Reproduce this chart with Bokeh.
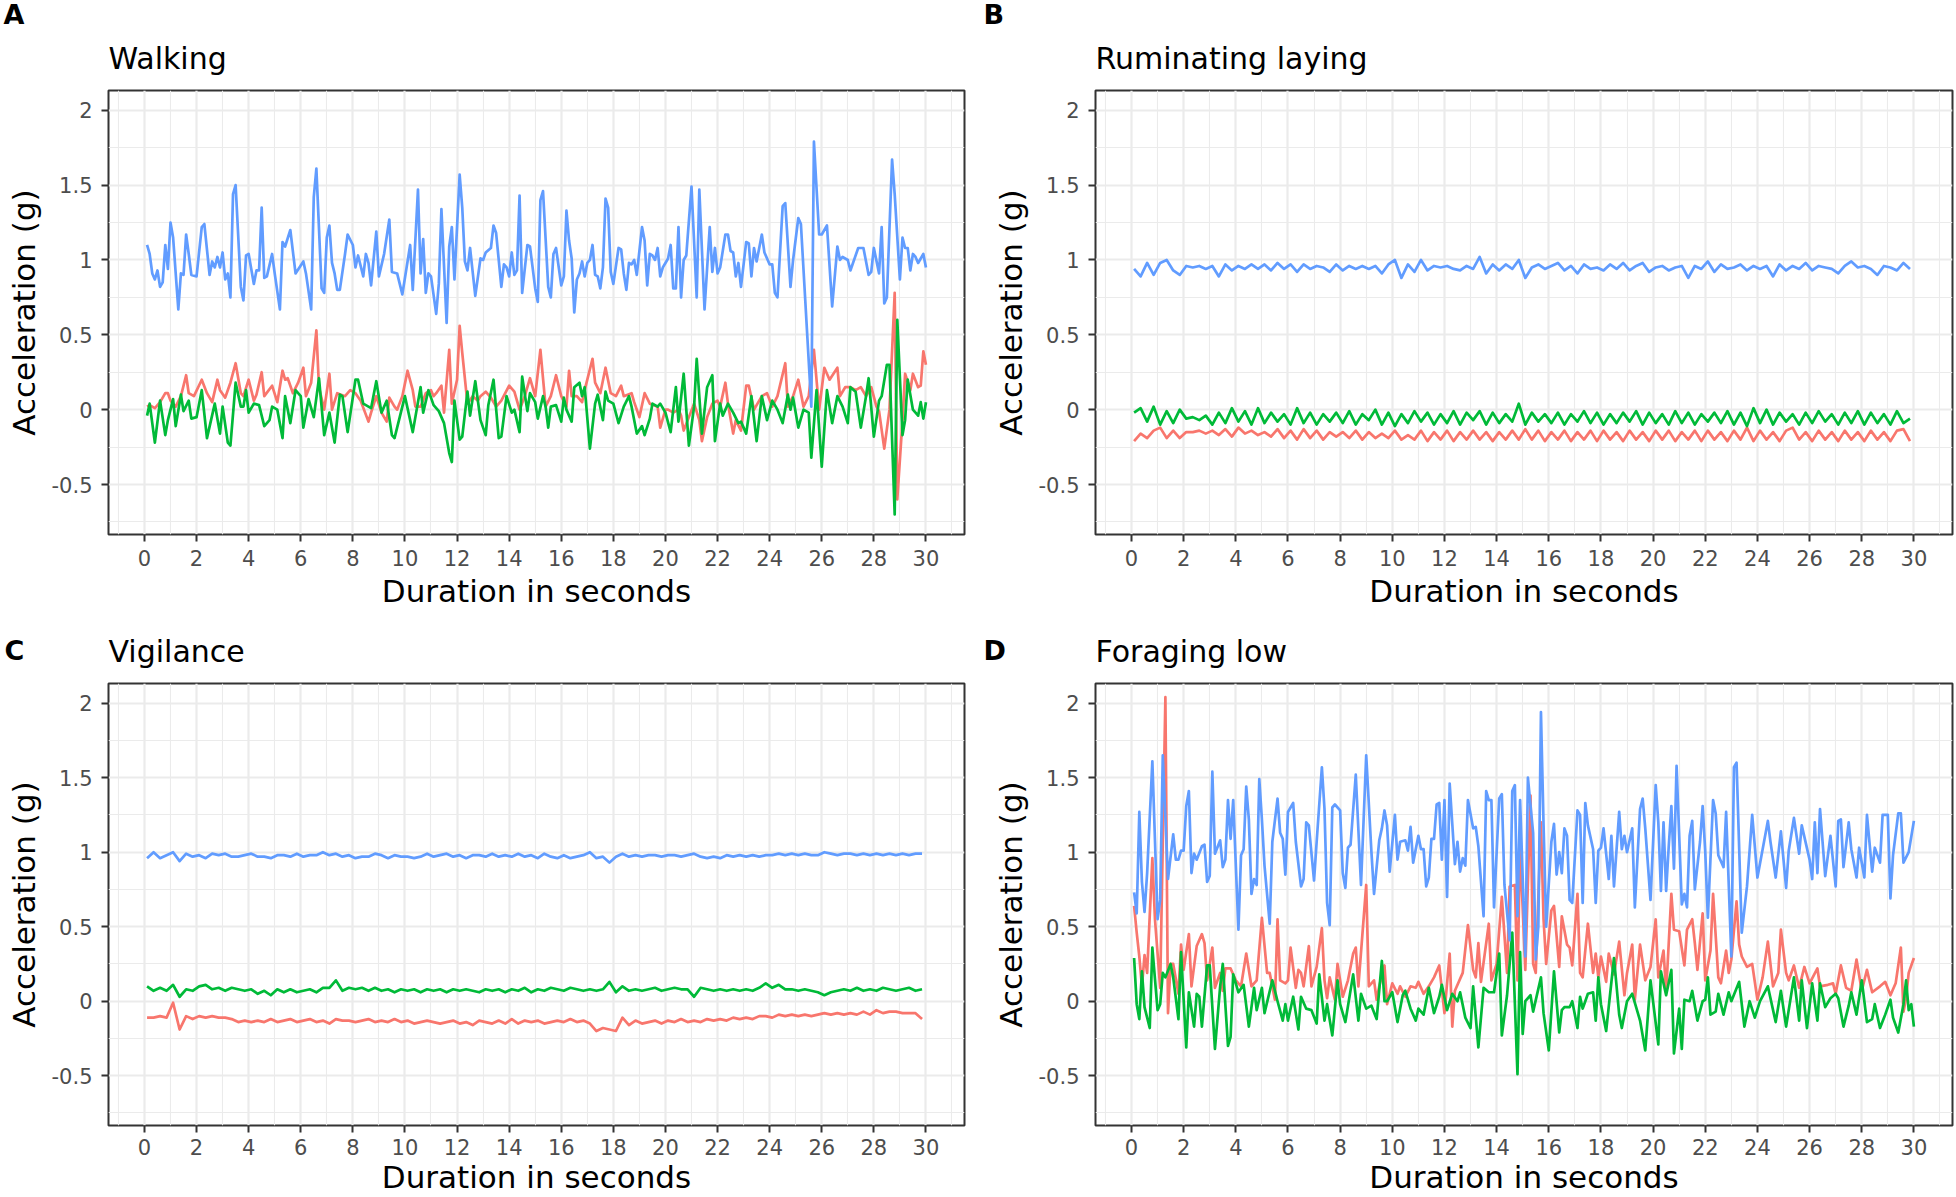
from bokeh.plotting import figure
from bokeh.models import Range1d, FixedTicker, CustomJSTickFormatter, Title
from bokeh.layouts import column, row
from bokeh.embed import file_html
from bokeh.resources import INLINE

FONT = "DejaVu Sans"
COL_X = "#F8766D"   # red
COL_Y = "#00BA38"   # green
COL_Z = "#619CFF"   # blue

X_TICKS = list(range(0, 31, 2))
X_MINOR = list(range(-1, 32, 2))
Y_TICKS = [-0.5, 0, 0.5, 1, 1.5, 2]
Y_MINOR = [-0.75, -0.25, 0.25, 0.75, 1.25, 1.75]

TITLES = ["Walking", "Ruminating laying", "Vigilance", "Foraging low"]
LETTERS = ["A", "B", "C", "D"]

# ---------------- Panel A: Walking (time s, acceleration g) ----------------
walking_z = [(0.1,1.10),(0.2,1.04),(0.3,0.91),(0.4,0.87),(0.5,0.93),(0.6,0.82),(0.7,0.85),(0.8,1.10),(0.9,0.94),(1.0,1.25),
 (1.1,1.15),(1.3,0.67),(1.4,0.91),(1.5,0.90),(1.6,1.17),(1.7,1.04),(1.8,0.90),(2.0,0.89),(2.2,1.22),(2.3,1.24),
 (2.5,0.90),(2.6,0.99),(2.7,0.95),(2.8,1.02),(2.9,0.95),(3.0,1.05),(3.1,0.87),(3.2,0.91),(3.3,0.75),(3.4,1.44),
 (3.5,1.50),(3.7,0.82),(3.8,0.73),(3.9,1.03),(4.0,1.04),(4.2,0.84),(4.3,0.93),(4.4,0.93),(4.5,1.35),(4.6,0.88),
 (4.7,0.89),(4.9,1.04),(5.0,0.91),(5.2,0.67),(5.3,1.12),(5.4,1.09),(5.6,1.20),(5.8,0.91),(6.1,0.99),(6.2,0.91),
 (6.4,0.67),(6.5,1.42),(6.6,1.61),(6.8,0.81),(6.9,0.78),(7.0,1.15),(7.1,1.23),(7.2,0.98),(7.3,0.91),(7.4,0.80),
 (7.5,0.80),(7.7,1.04),(7.8,1.17),(8.0,1.10),(8.1,0.95),(8.2,1.03),(8.4,0.89),(8.5,1.04),(8.6,0.98),(8.7,0.83),
 (8.9,1.19),(9.0,0.89),(9.2,1.04),(9.4,1.27),(9.5,0.92),(9.7,0.91),(9.9,0.77),(10.1,0.99),(10.2,1.10),(10.3,0.80),
 (10.5,1.47),(10.6,0.91),(10.7,1.14),(10.8,0.78),(10.9,0.91),(11.0,0.89),(11.2,0.64),(11.3,0.84),(11.4,1.34),(11.6,0.58),
 (11.7,1.09),(11.8,1.22),(11.9,0.87),(12.1,1.57),(12.2,1.35),(12.3,0.99),(12.4,0.93),(12.5,1.08),(12.7,0.76),(12.9,1.01),
 (13.0,1.00),(13.1,1.05),(13.3,1.08),(13.4,1.23),(13.5,1.18),(13.7,0.82),(13.8,0.97),(13.9,0.95),(14.0,0.89),(14.1,1.05),
 (14.2,0.90),(14.3,0.93),(14.4,1.43),(14.5,0.78),(14.7,1.10),(14.8,1.09),(15.0,0.81),(15.1,0.72),(15.2,1.40),(15.3,1.46),
 (15.5,0.82),(15.6,0.75),(15.7,1.04),(15.8,1.08),(16.0,0.83),(16.1,0.89),(16.2,1.33),(16.3,1.13),(16.4,1.01),(16.5,0.65),
 (16.6,0.87),(16.7,0.91),(16.8,0.99),(16.9,0.89),(17.0,0.98),(17.1,1.00),(17.2,1.10),(17.3,0.90),(17.4,0.89),(17.5,0.81),
 (17.6,0.95),(17.7,1.41),(17.8,1.35),(17.9,0.92),(18.0,0.84),(18.2,1.08),(18.3,1.07),(18.4,0.91),(18.5,0.80),(18.6,0.98),
 (18.7,0.97),(18.8,1.00),(18.9,0.90),(19.1,1.22),(19.2,1.13),(19.3,0.83),(19.4,1.04),(19.5,1.03),(19.6,1.00),(19.7,1.08),
 (19.8,0.89),(19.9,0.95),(20.0,0.98),(20.1,1.01),(20.2,1.10),(20.3,0.81),(20.4,0.81),(20.5,1.22),(20.6,0.75),(20.7,1.00),
 (20.8,1.03),(21.0,1.49),(21.2,0.75),(21.3,1.47),(21.5,0.67),(21.7,1.22),(21.8,0.92),(21.9,1.08),(22.0,0.91),(22.1,0.95),
 (22.3,1.17),(22.4,1.17),(22.5,1.06),(22.6,1.05),(22.7,0.89),(22.8,0.98),(22.9,0.82),(23.1,1.12),(23.2,1.11),(23.3,0.89),
 (23.4,1.08),(23.5,0.99),(23.7,1.17),(23.8,1.05),(24.0,0.97),(24.1,0.97),(24.2,0.78),(24.3,0.75),(24.5,1.36),(24.6,1.38),
 (24.8,0.82),(24.9,1.00),(25.1,1.28),(25.2,1.24),(25.6,0.02),(25.7,1.79),(25.9,1.17),(26.0,1.17),(26.2,1.23),(26.4,0.69),
 (26.6,1.09),(26.7,1.00),(26.8,1.02),(27.0,1.00),(27.1,0.93),(27.4,1.08),(27.6,1.08),(27.8,0.90),(27.9,0.92),(28.0,1.08),
 (28.2,0.91),(28.3,1.22),(28.4,0.71),(28.5,0.75),(28.7,1.67),(28.8,1.44),(29.0,0.87),(29.1,1.15),(29.2,1.08),(29.3,1.08),
 (29.4,0.93),(29.5,1.04),(29.6,1.02),(29.7,0.98),(29.9,1.04),(30.0,0.95)]

walking_x = [(0.1,0.02),(0.2,0.03),(0.4,0.01),(0.6,0.05),(0.8,0.11),(0.9,0.11),(1.0,0.06),(1.2,0.02),(1.4,0.09),(1.6,0.23),
 (1.7,0.11),(1.9,0.09),(2.2,0.20),(2.4,0.11),(2.6,0.05),(2.8,0.20),(2.9,0.13),(3.1,0.08),(3.3,0.18),(3.5,0.31),
 (3.7,0.11),(3.8,0.09),(4.0,0.20),(4.2,0.06),(4.3,0.10),(4.5,0.25),(4.6,0.09),(4.9,0.16),(5.1,0.05),(5.3,0.26),
 (5.4,0.20),(5.5,0.21),(5.7,0.11),(5.9,0.18),(6.1,0.28),(6.2,0.09),(6.4,0.18),(6.6,0.53),(6.7,0.15),(6.9,0.00),
 (7.1,0.24),(7.2,0.00),(7.4,0.11),(7.7,0.09),(7.9,0.13),(8.1,0.11),(8.3,0.06),(8.6,-0.08),(8.7,-0.02),(8.9,0.09),
 (9.1,-0.02),(9.3,-0.08),(9.4,0.08),(9.6,0.02),(9.7,0.00),(9.9,0.09),(10.1,0.26),(10.3,0.13),(10.4,0.02),(10.5,0.02),
 (10.6,0.02),(10.8,0.11),(11.0,0.13),(11.1,0.09),(11.2,0.11),(11.4,0.16),(11.5,-0.02),(11.7,0.40),(11.8,0.04),(12.0,0.20),
 (12.1,0.56),(12.2,0.38),(12.4,0.04),(12.6,0.09),(12.8,0.06),(12.9,0.09),(13.1,0.12),(13.3,0.08),(13.5,0.02),(13.7,0.06),
 (14.0,0.16),(14.2,0.12),(14.4,0.00),(14.6,0.09),(14.8,0.21),(15.0,0.09),(15.2,0.40),(15.4,0.02),(15.6,0.09),(15.8,0.23),
 (16.0,0.09),(16.2,0.02),(16.3,0.26),(16.4,0.09),(16.6,0.09),(16.8,0.05),(16.9,0.13),(17.2,0.34),(17.3,0.18),(17.5,0.11),
 (17.7,0.28),(17.9,0.11),(18.1,0.09),(18.3,0.16),(18.4,0.09),(18.7,0.11),(18.8,0.05),(19.0,-0.05),(19.2,0.11),(19.4,0.04),
 (19.7,0.02),(19.8,-0.12),(20.0,0.00),(20.1,0.00),(20.3,-0.02),(20.5,0.00),(20.6,-0.04),(20.7,-0.14),(20.9,-0.05),(21.1,0.04),
 (21.3,-0.07),(21.4,-0.21),(21.6,-0.05),(21.8,0.04),(22.0,0.06),(22.1,0.02),(22.3,0.18),(22.4,0.04),(22.6,-0.16),(22.7,-0.07),
 (22.9,-0.14),(23.1,0.16),(23.2,0.16),(23.4,0.00),(23.7,0.09),(23.9,0.11),(24.1,0.02),(24.3,0.09),(24.6,0.31),(24.7,0.02),
 (24.9,0.09),(25.1,0.20),(25.3,0.02),(25.5,0.09),(25.7,0.40),(25.9,0.00),(26.1,0.28),(26.3,0.20),(26.6,0.28),(26.7,0.09),
 (26.9,0.15),(27.1,0.15),(27.3,0.13),(27.5,0.15),(27.7,0.09),(27.9,0.15),(28.1,0.02),(28.2,-0.01),(28.4,-0.26),(28.6,0.00),
 (28.8,0.78),(28.9,-0.60),(29.1,-0.07),(29.2,0.24),(29.4,0.13),(29.5,0.24),(29.7,0.15),(29.8,0.16),(29.9,0.39),(30.0,0.30)]

walking_y = [(0.1,-0.04),(0.2,0.04),(0.4,-0.22),(0.6,0.06),(0.8,-0.17),(0.9,-0.07),(1.1,0.07),(1.2,-0.11),(1.4,0.10),(1.5,-0.01),
 (1.7,0.06),(1.8,-0.06),(2.0,-0.05),(2.2,0.13),(2.4,-0.19),(2.7,0.04),(2.9,-0.16),(3.0,0.02),(3.2,-0.22),(3.3,-0.24),
 (3.5,0.18),(3.7,0.02),(3.8,0.02),(3.9,0.13),(4.0,-0.02),(4.2,0.04),(4.4,0.03),(4.6,-0.11),(4.8,-0.07),(4.9,0.02),
 (5.1,0.00),(5.3,-0.19),(5.4,0.09),(5.6,-0.09),(5.8,0.13),(6.0,0.09),(6.1,-0.12),(6.3,0.07),(6.5,-0.05),(6.7,0.21),
 (6.9,-0.17),(7.1,-0.02),(7.3,-0.22),(7.5,0.10),(7.6,0.09),(7.8,-0.15),(8.1,0.20),(8.2,0.20),(8.4,0.04),(8.7,0.01),
 (8.9,0.19),(9.1,-0.02),(9.3,0.06),(9.5,-0.17),(9.6,-0.19),(9.8,-0.05),(10.0,0.09),(10.3,-0.15),(10.6,0.15),(10.7,-0.02),
 (10.9,0.13),(11.1,0.03),(11.3,-0.01),(11.5,-0.09),(11.7,-0.29),(11.8,-0.35),(11.9,0.06),(12.1,-0.20),(12.2,-0.18),(12.4,0.12),
 (12.5,-0.04),(12.7,0.19),(12.9,-0.07),(13.1,-0.17),(13.2,0.03),(13.4,0.20),(13.6,-0.19),(13.7,-0.18),(13.9,0.09),(14.1,-0.02),
 (14.2,0.00),(14.4,-0.15),(14.5,0.22),(14.7,-0.01),(14.8,0.11),(15.0,0.05),(15.1,-0.06),(15.3,0.09),(15.4,0.02),(15.5,-0.12),
 (15.6,0.02),(15.8,0.03),(16.0,-0.08),(16.1,0.08),(16.2,0.00),(16.4,-0.08),(16.5,0.15),(16.7,0.18),(16.8,0.09),(16.9,0.15),
 (17.1,-0.26),(17.3,0.04),(17.4,0.10),(17.6,-0.07),(17.7,0.12),(17.8,0.06),(18.0,0.04),(18.2,-0.09),(18.4,0.02),(18.6,0.09),
 (18.7,0.02),(18.9,-0.16),(19.1,-0.11),(19.2,-0.17),(19.4,-0.06),(19.5,0.04),(19.7,0.02),(19.8,0.04),(20.0,-0.02),(20.2,-0.15),
 (20.4,0.15),(20.5,-0.08),(20.7,0.24),(20.9,-0.24),(21.1,0.02),(21.2,0.34),(21.4,-0.16),(21.6,0.15),(21.8,0.23),(21.9,-0.21),
 (22.1,0.04),(22.2,-0.04),(22.4,0.04),(22.6,-0.02),(22.8,-0.09),(22.9,-0.08),(23.1,-0.16),(23.3,0.09),(23.5,-0.21),(23.7,0.09),
 (23.9,-0.07),(24.1,0.06),(24.3,0.00),(24.5,-0.09),(24.7,0.10),(24.8,0.00),(24.9,0.08),(25.1,-0.12),(25.3,0.00),(25.5,-0.02),
 (25.6,-0.32),(25.8,0.13),(26.0,-0.38),(26.2,0.13),(26.4,-0.09),(26.6,0.09),(26.8,0.02),(27.0,-0.09),(27.1,0.15),(27.3,0.12),
 (27.5,-0.12),(27.7,0.09),(27.8,0.21),(28.0,-0.18),(28.2,0.06),(28.3,0.09),(28.5,0.30),(28.6,0.30),(28.8,-0.70),(28.9,0.60),
 (29.1,-0.17),(29.2,-0.07),(29.3,0.20),(29.5,0.00),(29.7,-0.04),(29.8,0.05),(29.9,-0.06),(30.0,0.05)]

# ---------------- Panel B: Ruminating laying (values every 0.25 s from 0.1 s) ----------------
ruminating_z = [0.94,0.89,0.98,0.90,0.98,1.00,0.93,0.90,0.96,0.95,
 0.96,0.94,0.96,0.89,0.97,0.93,0.96,0.94,0.97,0.94,
 0.97,0.93,0.98,0.94,0.97,0.92,0.97,0.94,0.96,0.95,
 0.92,0.97,0.93,0.96,0.94,0.96,0.94,0.96,0.91,0.97,
 1.00,0.88,0.97,0.92,1.00,0.93,0.96,0.95,0.96,0.94,
 0.93,0.96,0.94,1.02,0.91,0.97,0.93,0.97,0.94,1.00,
 0.88,0.95,0.97,0.94,0.96,0.98,0.93,0.96,0.91,0.97,
 0.94,0.95,0.93,0.97,0.94,0.98,0.93,0.96,0.98,0.92,
 0.95,0.96,0.93,0.95,0.96,0.88,0.96,0.94,0.99,0.92,
 0.97,0.94,0.95,0.97,0.93,0.96,0.94,0.96,0.89,0.97,
 0.93,0.96,0.94,0.98,0.93,0.96,0.95,0.94,0.91,0.96,
 0.99,0.95,0.96,0.94,0.90,0.96,0.95,0.93,0.98,0.94]

ruminating_y = [-0.02,0.01,-0.08,0.02,-0.10,-0.01,-0.09,0.00,-0.06,-0.05,
 -0.07,-0.04,-0.10,-0.02,-0.09,0.01,-0.08,-0.01,-0.10,0.01,
 -0.09,-0.02,-0.08,-0.03,-0.10,0.01,-0.09,-0.02,-0.10,-0.03,
 -0.08,-0.02,-0.09,-0.01,-0.10,-0.03,-0.07,0.00,-0.10,-0.02,
 -0.11,-0.03,-0.09,-0.01,-0.08,-0.02,-0.10,-0.03,-0.09,-0.01,
 -0.10,-0.02,-0.07,-0.01,-0.10,-0.02,-0.09,-0.03,-0.08,0.04,
 -0.10,-0.02,-0.08,-0.03,-0.09,-0.02,-0.10,-0.03,-0.08,-0.01,
 -0.09,-0.02,-0.10,-0.03,-0.09,-0.02,-0.08,-0.01,-0.10,-0.02,
 -0.09,-0.03,-0.10,-0.01,-0.09,-0.02,-0.10,-0.03,-0.08,-0.02,
 -0.09,-0.01,-0.10,-0.02,-0.11,0.01,-0.09,0.00,-0.10,-0.02,
 -0.08,-0.03,-0.10,-0.02,-0.09,-0.01,-0.08,-0.03,-0.10,-0.02,
 -0.09,-0.01,-0.10,-0.02,-0.09,-0.03,-0.10,-0.01,-0.09,-0.06]

ruminating_x = [-0.21,-0.16,-0.19,-0.14,-0.12,-0.19,-0.14,-0.19,-0.15,-0.15,
 -0.14,-0.16,-0.14,-0.17,-0.13,-0.18,-0.12,-0.16,-0.14,-0.17,
 -0.15,-0.18,-0.13,-0.19,-0.14,-0.20,-0.13,-0.19,-0.14,-0.20,
 -0.15,-0.18,-0.15,-0.19,-0.14,-0.20,-0.15,-0.19,-0.16,-0.19,
 -0.14,-0.20,-0.17,-0.20,-0.14,-0.21,-0.15,-0.20,-0.14,-0.21,
 -0.15,-0.20,-0.14,-0.20,-0.15,-0.21,-0.15,-0.20,-0.14,-0.20,
 -0.13,-0.20,-0.14,-0.21,-0.15,-0.20,-0.14,-0.21,-0.15,-0.20,
 -0.14,-0.21,-0.14,-0.20,-0.15,-0.21,-0.14,-0.20,-0.15,-0.21,
 -0.14,-0.20,-0.14,-0.21,-0.15,-0.20,-0.14,-0.21,-0.14,-0.20,
 -0.15,-0.21,-0.14,-0.20,-0.12,-0.21,-0.14,-0.20,-0.15,-0.21,
 -0.14,-0.12,-0.20,-0.15,-0.21,-0.14,-0.20,-0.15,-0.21,-0.14,
 -0.20,-0.15,-0.21,-0.14,-0.20,-0.15,-0.21,-0.14,-0.13,-0.21]

# ---------------- Panel C: Vigilance (values every 0.25 s from 0.1 s) ----------------
vigilance_z = [0.96,1.00,0.96,0.98,1.00,0.94,0.99,0.97,0.98,0.96,
 0.99,0.98,0.99,0.97,0.97,0.98,0.99,0.97,0.97,0.96,
 0.98,0.98,0.97,0.99,0.97,0.98,0.98,1.00,0.98,0.99,
 0.97,0.98,0.96,0.97,0.97,0.99,0.98,0.96,0.98,0.97,
 0.97,0.96,0.97,0.99,0.97,0.98,0.99,0.97,0.98,0.96,
 0.98,0.98,0.97,0.99,0.97,0.98,0.97,0.99,0.97,0.98,
 0.96,0.99,0.97,0.96,0.98,0.96,0.97,0.98,1.00,0.96,
 0.97,0.93,0.97,0.99,0.97,0.98,0.97,0.98,0.98,0.97,
 0.98,0.98,0.97,0.98,0.99,0.97,0.96,0.97,0.96,0.98,
 0.97,0.98,0.97,0.98,0.97,0.98,0.98,0.99,0.98,0.99,
 0.98,0.99,0.98,0.98,1.00,0.99,0.98,0.99,0.99,0.98,
 0.99,0.98,0.99,0.98,0.99,0.98,0.99,0.98,0.99,0.99]

vigilance_y = [0.10,0.07,0.09,0.07,0.11,0.03,0.08,0.07,0.10,0.11,
 0.08,0.09,0.07,0.09,0.08,0.07,0.08,0.05,0.07,0.04,
 0.08,0.06,0.08,0.06,0.07,0.08,0.06,0.09,0.09,0.14,
 0.07,0.09,0.08,0.09,0.07,0.09,0.07,0.08,0.06,0.08,
 0.07,0.08,0.06,0.08,0.07,0.08,0.06,0.08,0.07,0.08,
 0.07,0.06,0.08,0.07,0.08,0.06,0.08,0.07,0.09,0.06,
 0.08,0.07,0.09,0.08,0.07,0.09,0.08,0.07,0.08,0.07,
 0.08,0.13,0.06,0.10,0.07,0.08,0.07,0.08,0.09,0.07,
 0.08,0.09,0.08,0.08,0.03,0.09,0.08,0.07,0.08,0.07,
 0.08,0.07,0.08,0.07,0.09,0.12,0.09,0.11,0.08,0.08,
 0.07,0.08,0.07,0.06,0.04,0.06,0.07,0.08,0.07,0.09,
 0.07,0.08,0.07,0.09,0.08,0.07,0.08,0.09,0.07,0.08]

vigilance_x = [-0.11,-0.11,-0.10,-0.11,-0.01,-0.19,-0.10,-0.12,-0.10,-0.11,
 -0.10,-0.11,-0.11,-0.12,-0.14,-0.13,-0.14,-0.13,-0.14,-0.12,
 -0.14,-0.13,-0.12,-0.14,-0.13,-0.12,-0.14,-0.13,-0.15,-0.12,
 -0.13,-0.13,-0.14,-0.13,-0.12,-0.14,-0.13,-0.14,-0.12,-0.14,
 -0.13,-0.15,-0.14,-0.13,-0.14,-0.15,-0.14,-0.13,-0.15,-0.14,
 -0.16,-0.13,-0.14,-0.15,-0.13,-0.15,-0.12,-0.15,-0.13,-0.14,
 -0.13,-0.15,-0.14,-0.13,-0.14,-0.12,-0.14,-0.13,-0.15,-0.20,
 -0.18,-0.19,-0.20,-0.11,-0.16,-0.13,-0.15,-0.14,-0.13,-0.15,
 -0.13,-0.14,-0.12,-0.14,-0.13,-0.14,-0.12,-0.13,-0.12,-0.13,
 -0.11,-0.12,-0.11,-0.12,-0.10,-0.10,-0.11,-0.09,-0.10,-0.09,
 -0.10,-0.09,-0.10,-0.09,-0.08,-0.09,-0.08,-0.09,-0.08,-0.09,
 -0.07,-0.09,-0.06,-0.08,-0.07,-0.07,-0.08,-0.08,-0.08,-0.12]

# ---------------- Panel D: Foraging low (time s, acceleration g) ----------------
foraging_z = [(0.1,0.73),(0.2,0.59),(0.3,1.27),(0.4,0.80),(0.5,0.60),(0.6,0.86),(0.8,1.61),(1.0,0.55),(1.1,0.68),(1.2,1.65),
 (1.4,0.82),(1.6,1.12),(1.7,0.95),(1.8,0.95),(1.9,1.01),(2.0,1.01),(2.1,1.31),(2.2,1.41),(2.3,0.86),(2.4,0.99),
 (2.5,0.95),(2.7,1.04),(2.8,1.05),(2.9,0.80),(3.0,0.84),(3.1,1.54),(3.2,0.99),(3.4,1.08),(3.5,0.90),(3.6,0.95),
 (3.7,1.35),(3.8,1.09),(3.9,1.35),(4.1,0.48),(4.2,0.98),(4.3,1.02),(4.4,1.44),(4.5,1.22),(4.6,0.72),(4.7,0.82),
 (4.8,0.78),(4.9,1.49),(5.0,1.22),(5.1,0.91),(5.3,0.52),(5.4,1.07),(5.6,1.36),(5.7,1.13),(5.8,1.09),(5.9,0.85),
 (6.0,1.27),(6.2,1.33),(6.3,1.07),(6.5,0.77),(6.6,0.82),(6.7,1.20),(6.8,1.18),(7.0,0.81),(7.1,1.07),(7.3,1.57),
 (7.4,1.29),(7.5,0.66),(7.6,0.51),(7.7,1.30),(7.8,1.32),(8.0,1.28),(8.1,0.86),(8.2,0.76),(8.3,1.03),(8.4,1.05),
 (8.6,1.52),(8.8,0.78),(9.0,1.65),(9.2,1.00),(9.3,0.72),(9.5,1.08),(9.6,1.16),(9.7,1.28),(9.8,1.18),(9.9,0.87),
 (10.1,1.25),(10.2,0.95),(10.3,1.07),(10.5,1.08),(10.6,1.01),(10.7,1.17),(10.8,0.93),(11.0,1.11),(11.1,1.02),(11.2,1.02),
 (11.3,0.77),(11.4,0.83),(11.5,1.09),(11.6,1.09),(11.7,1.32),(11.8,1.33),(11.9,0.95),(12.0,1.35),(12.1,0.70),(12.2,1.46),
 (12.4,0.92),(12.5,1.07),(12.6,0.87),(12.7,0.96),(12.8,0.91),(12.9,1.35),(13.1,1.16),(13.2,1.17),(13.3,1.04),(13.5,0.57),
 (13.6,1.41),(13.7,1.35),(13.8,1.35),(13.9,0.63),(14.1,1.36),(14.2,1.39),(14.3,0.78),(14.5,0.41),(14.6,1.41),(14.7,1.45),
 (14.8,0.57),(14.9,1.35),(15.1,0.30),(15.2,1.50),(15.4,1.13),(15.5,0.28),(15.6,0.50),(15.7,1.94),(15.8,1.18),(15.9,0.50),
 (16.1,1.07),(16.2,1.19),(16.3,0.85),(16.4,1.00),(16.5,0.86),(16.6,1.16),(16.7,1.11),(16.8,0.68),(16.9,0.66),(17.1,1.28),
 (17.2,1.25),(17.3,0.66),(17.4,1.33),(17.5,1.18),(17.7,1.02),(17.8,0.66),(17.9,1.01),(18.0,1.03),(18.1,1.16),(18.3,0.82),
 (18.4,1.11),(18.5,0.77),(18.7,1.27),(18.8,1.02),(18.9,1.11),(19.0,1.00),(19.2,1.16),(19.3,0.63),(19.5,1.29),(19.6,1.36),
 (19.7,1.16),(19.9,0.68),(20.1,1.45),(20.2,1.20),(20.3,0.74),(20.4,1.20),(20.5,0.74),(20.6,1.04),(20.7,1.31),(20.8,0.89),
 (20.9,1.58),(21.1,0.65),(21.2,0.72),(21.3,0.63),(21.4,1.11),(21.5,1.21),(21.6,0.75),(21.8,1.07),(21.9,1.31),(22.0,1.00),
 (22.1,0.56),(22.3,1.35),(22.4,1.26),(22.5,0.98),(22.7,0.90),(22.8,1.27),(23.0,0.30),(23.1,1.57),(23.2,1.60),(23.4,0.46),
 (23.6,0.77),(23.8,1.25),(24.0,0.83),(24.2,1.02),(24.4,1.21),(24.5,1.07),(24.7,0.83),(24.9,1.14),(25.1,0.76),(25.2,1.01),
 (25.4,1.23),(25.6,0.99),(25.7,1.18),(26.0,0.95),(26.1,0.82),(26.2,1.20),(26.3,0.86),(26.4,1.29),(26.6,0.84),(26.8,1.11),
 (27.0,0.77),(27.1,1.21),(27.2,1.22),(27.3,0.90),(27.5,1.20),(27.6,1.02),(27.8,0.83),(27.9,1.03),(28.1,0.83),(28.2,1.25),
 (28.4,0.87),(28.5,1.03),(28.7,0.93),(28.8,1.25),(29.0,1.25),(29.1,0.69),(29.2,0.98),(29.4,1.26),(29.5,1.26),(29.6,0.93),
 (29.8,1.00),(30.0,1.21)]

foraging_x = [(0.1,0.64),(0.2,0.46),(0.3,0.30),(0.4,0.10),(0.5,0.31),(0.6,0.19),(0.8,0.96),(0.9,0.55),(1.1,0.09),(1.3,2.04),
 (1.4,-0.08),(1.5,0.25),(1.6,0.25),(1.8,0.05),(1.9,0.38),(2.0,0.21),(2.2,0.45),(2.3,0.10),(2.5,0.37),(2.7,0.45),
 (2.8,0.39),(2.9,0.14),(3.1,0.36),(3.2,0.09),(3.4,0.19),(3.5,0.07),(3.6,0.22),(3.8,0.22),(4.0,0.14),(4.2,0.10),
 (4.4,0.32),(4.6,0.10),(4.8,0.14),(5.0,0.56),(5.2,0.19),(5.3,0.19),(5.5,0.01),(5.6,0.55),(5.7,0.14),(5.9,0.12),
 (6.0,0.14),(6.1,0.36),(6.3,0.09),(6.4,0.21),(6.5,0.19),(6.6,0.10),(6.8,0.37),(6.9,0.10),(7.1,0.23),(7.3,0.49),
 (7.4,0.14),(7.5,0.02),(7.6,0.16),(7.8,0.01),(7.9,0.25),(8.1,0.03),(8.3,0.14),(8.5,0.32),(8.6,0.36),(8.7,0.10),
 (9.0,0.78),(9.1,0.10),(9.3,0.14),(9.4,0.01),(9.5,0.10),(9.7,0.24),(9.8,-0.02),(10.0,0.12),(10.2,0.05),(10.3,0.10),
 (10.5,0.03),(10.7,0.10),(10.9,0.09),(11.0,0.13),(11.2,0.05),(11.4,0.10),(11.6,0.16),(11.8,0.24),(12.0,-0.08),(12.2,0.32),
 (12.3,-0.17),(12.4,0.07),(12.7,0.19),(12.9,0.51),(13.1,0.21),(13.2,0.16),(13.3,0.39),(13.4,0.13),(13.7,0.52),(13.8,0.14),
 (14.0,0.25),(14.2,0.70),(14.4,0.19),(14.5,0.77),(14.7,0.78),(14.8,0.14),(14.9,1.04),(15.1,0.21),(15.3,1.38),(15.4,0.25),
 (15.5,0.19),(15.7,1.20),(15.8,0.55),(15.9,0.25),(16.1,0.61),(16.2,0.64),(16.4,0.23),(16.5,0.57),(16.7,0.38),(16.8,0.36),
 (16.9,0.24),(17.1,0.72),(17.2,0.19),(17.3,0.16),(17.5,0.52),(17.7,0.19),(17.8,0.32),(17.9,0.16),(18.0,0.30),(18.2,0.13),
 (18.3,0.32),(18.5,0.18),(18.7,0.40),(18.9,0.04),(19.0,0.19),(19.2,0.38),(19.3,0.01),(19.5,0.38),(19.7,0.14),(19.9,0.23),
 (20.1,0.55),(20.2,0.16),(20.4,0.34),(20.5,0.06),(20.7,0.72),(20.8,0.48),(21.0,0.47),(21.2,0.24),(21.3,0.48),(21.5,0.55),
 (21.6,0.39),(21.7,0.21),(21.9,0.59),(22.0,0.14),(22.2,0.34),(22.3,0.72),(22.5,0.16),(22.6,0.12),(22.8,0.34),(22.9,0.19),
 (23.0,0.28),(23.2,0.67),(23.3,0.38),(23.4,0.30),(23.6,0.23),(23.8,0.25),(24.0,0.01),(24.2,0.16),(24.4,0.40),(24.6,0.10),
 (24.8,0.19),(24.9,0.48),(25.1,0.19),(25.2,0.14),(25.4,0.24),(25.6,0.09),(25.8,0.23),(26.0,0.12),(26.3,0.22),(26.4,0.10),
 (26.7,0.11),(26.9,0.12),(27.0,0.05),(27.2,0.24),(27.4,0.09),(27.6,0.07),(27.8,0.28),(28.0,0.07),(28.2,0.21),(28.4,0.06),
 (28.7,0.10),(28.9,0.13),(29.1,0.04),(29.3,0.12),(29.5,0.36),(29.6,-0.07),(29.7,0.02),(29.8,0.19),(30.0,0.29)]

foraging_y = [(0.1,0.29),(0.2,-0.02),(0.3,-0.12),(0.4,0.20),(0.5,-0.04),(0.7,-0.18),(0.8,0.36),(1.0,-0.06),(1.1,-0.02),(1.2,0.19),
 (1.3,0.16),(1.5,0.25),(1.6,0.16),(1.8,-0.12),(1.9,0.33),(2.1,-0.31),(2.2,0.06),(2.4,-0.17),(2.5,0.05),(2.6,0.03),
 (2.7,-0.17),(2.9,0.24),(3.0,0.24),(3.2,-0.32),(3.4,0.10),(3.5,0.25),(3.7,-0.30),(3.8,-0.24),(3.9,0.18),(4.1,0.06),
 (4.3,0.11),(4.5,-0.17),(4.7,0.09),(4.8,-0.06),(5.0,0.09),(5.1,-0.08),(5.4,0.14),(5.6,0.00),(5.8,-0.13),(5.9,-0.02),
 (6.0,-0.13),(6.2,0.03),(6.4,-0.19),(6.5,0.03),(6.7,-0.05),(6.9,-0.06),(7.1,-0.15),(7.2,0.18),(7.4,-0.13),(7.5,-0.02),
 (7.7,-0.23),(7.9,0.14),(8.0,-0.02),(8.2,-0.14),(8.5,0.18),(8.7,-0.13),(8.8,0.05),(9.0,-0.05),(9.2,-0.03),(9.4,-0.12),
 (9.6,0.27),(9.7,0.00),(9.8,0.00),(10.0,0.06),(10.2,-0.14),(10.4,0.04),(10.5,0.07),(10.7,-0.05),(10.9,-0.13),(11.0,-0.05),
 (11.2,-0.09),(11.4,0.09),(11.6,-0.08),(11.8,0.03),(11.9,0.11),(12.1,-0.06),(12.3,0.05),(12.5,0.00),(12.6,0.06),(12.8,-0.11),
 (13.0,-0.18),(13.1,0.10),(13.3,-0.31),(13.5,0.09),(13.7,0.06),(13.9,0.06),(14.1,0.32),(14.2,-0.23),(14.4,0.04),(14.6,0.46),
 (14.8,-0.49),(14.9,0.33),(15.0,-0.22),(15.1,0.00),(15.3,0.04),(15.4,-0.07),(15.7,0.16),(15.8,-0.08),(16.0,-0.33),(16.2,0.20),
 (16.4,-0.21),(16.5,-0.06),(16.6,-0.04),(16.8,-0.04),(16.9,0.00),(17.1,-0.18),(17.2,0.03),(17.3,-0.05),(17.4,0.00),(17.5,0.05),
 (17.7,0.06),(17.8,-0.13),(17.9,0.16),(18.0,-0.02),(18.2,-0.20),(18.5,0.29),(18.7,-0.09),(18.8,-0.18),(19.0,0.00),(19.2,0.05),
 (19.5,-0.13),(19.7,-0.33),(19.9,0.14),(20.2,-0.29),(20.3,0.20),(20.5,0.04),(20.7,0.21),(20.8,-0.35),(21.0,-0.05),(21.1,-0.32),
 (21.2,0.01),(21.4,0.00),(21.5,0.07),(21.7,-0.13),(21.9,0.00),(22.0,0.01),(22.1,0.16),(22.2,-0.09),(22.4,-0.07),(22.5,0.05),
 (22.7,-0.09),(22.9,0.06),(23.0,0.00),(23.3,0.13),(23.5,-0.17),(23.7,0.00),(23.9,-0.11),(24.1,0.00),(24.4,0.10),(24.7,-0.14),
 (24.9,0.07),(25.1,-0.17),(25.4,0.16),(25.6,-0.13),(25.7,0.14),(25.9,-0.18),(26.1,0.12),(26.3,-0.13),(26.4,0.12),(26.6,-0.04),
 (26.8,0.02),(27.0,0.05),(27.1,0.02),(27.3,-0.17),(27.5,-0.03),(27.6,0.06),(27.8,-0.09),(28.0,0.14),(28.2,-0.14),(28.4,-0.12),
 (28.5,-0.02),(28.7,-0.18),(28.9,-0.09),(29.1,0.01),(29.2,-0.11),(29.4,-0.21),(29.6,-0.02),(29.7,0.14),(29.8,-0.06),(29.9,-0.02),
 (30.0,-0.17)]


def unzip(pairs):
    return [p[0] for p in pairs], [p[1] for p in pairs]


def grid_series(values):
    # samples every 0.25 s starting at 0.1 s
    return [round(0.1 + 0.25 * k, 2) for k in range(len(values))], values


def make_panel(title, letter, series, width, height, bl, br, bt, bb,
               letter_dx, letter_standoff, xl_standoff, xt_standoff):
    p = figure(width=width, height=height,
               x_range=Range1d(-1.38, 31.48), y_range=Range1d(-0.834, 2.132),
               output_backend="svg", toolbar_location=None, title=None,
               min_border_left=bl, min_border_right=br, min_border_top=bt, min_border_bottom=bb,
               x_axis_label="Duration in seconds", y_axis_label="Acceleration (g)")
    p.background_fill_color = "white"
    p.border_fill_color = "white"
    p.outline_line_color = "#333333"
    p.outline_line_width = 2

    p.add_layout(Title(text=title, align="left", offset=0, standoff=30,
                       text_font=FONT, text_font_size="30px", text_font_style="normal",
                       text_color="black"), "above")
    p.add_layout(Title(text=letter, align="left", offset=letter_dx, standoff=letter_standoff,
                       text_font=FONT, text_font_size="27px", text_font_style="bold",
                       text_color="black"), "above")

    p.xaxis.ticker = FixedTicker(ticks=X_TICKS, minor_ticks=X_MINOR)
    p.yaxis.ticker = FixedTicker(ticks=Y_TICKS, minor_ticks=Y_MINOR)
    p.xgrid.ticker = FixedTicker(ticks=X_TICKS, minor_ticks=X_MINOR)
    p.ygrid.ticker = FixedTicker(ticks=Y_TICKS, minor_ticks=Y_MINOR)
    for g in (p.xgrid, p.ygrid):
        g.grid_line_color = "#EBEBEB"
        g.grid_line_width = 2.2
        g.minor_grid_line_color = "#EBEBEB"
        g.minor_grid_line_width = 1.1

    for ax in (p.xaxis[0], p.yaxis[0]):
        ax.axis_line_color = None
        ax.major_tick_line_color = "#333333"
        ax.major_tick_line_width = 2
        ax.major_tick_in = 0
        ax.major_tick_out = 7
        ax.minor_tick_line_color = None
        ax.major_label_text_font = FONT
        ax.major_label_text_font_size = "21px"
        ax.major_label_text_color = "#4D4D4D"
        ax.axis_label_text_font = FONT
        ax.axis_label_text_font_size = "31px"
        ax.axis_label_text_font_style = "normal"
        ax.axis_label_text_color = "black"
        ax.formatter = CustomJSTickFormatter(code="return String(tick);")
    p.xaxis[0].major_label_standoff = xt_standoff
    p.xaxis[0].axis_label_standoff = xl_standoff
    p.yaxis[0].major_label_standoff = 9
    p.yaxis[0].axis_label_standoff = 7

    for (t, v), col in zip(series, (COL_X, COL_Y, COL_Z)):
        p.line(t, v, line_color=col, line_width=2.7, line_join="round")
    return p


sA = [unzip(walking_x), unzip(walking_y), unzip(walking_z)]
sB = [grid_series(ruminating_x), grid_series(ruminating_y), grid_series(ruminating_z)]
sC = [grid_series(vigilance_x), grid_series(vigilance_y), grid_series(vigilance_z)]
sD = [unzip(foraging_x), unzip(foraging_y), unzip(foraging_z)]

pA = make_panel(TITLES[0], LETTERS[0], sA, 978, 612, 108, 14, 90, 78, -105, -13, 4, 8)
pB = make_panel(TITLES[1], LETTERS[1], sB, 978, 612, 117, 4, 90, 78, -112, -13, 4, 8)
pC = make_panel(TITLES[2], LETTERS[2], sC, 978, 585, 108, 14, 71, 71, -104, -99, 1, 6)
pD = make_panel(TITLES[3], LETTERS[3], sD, 978, 585, 117, 4, 71, 71, -112, -99, 1, 6)

layout = column(row(pA, pB), row(pC, pD))
open("out.html", "w").write(file_html(layout, INLINE))
